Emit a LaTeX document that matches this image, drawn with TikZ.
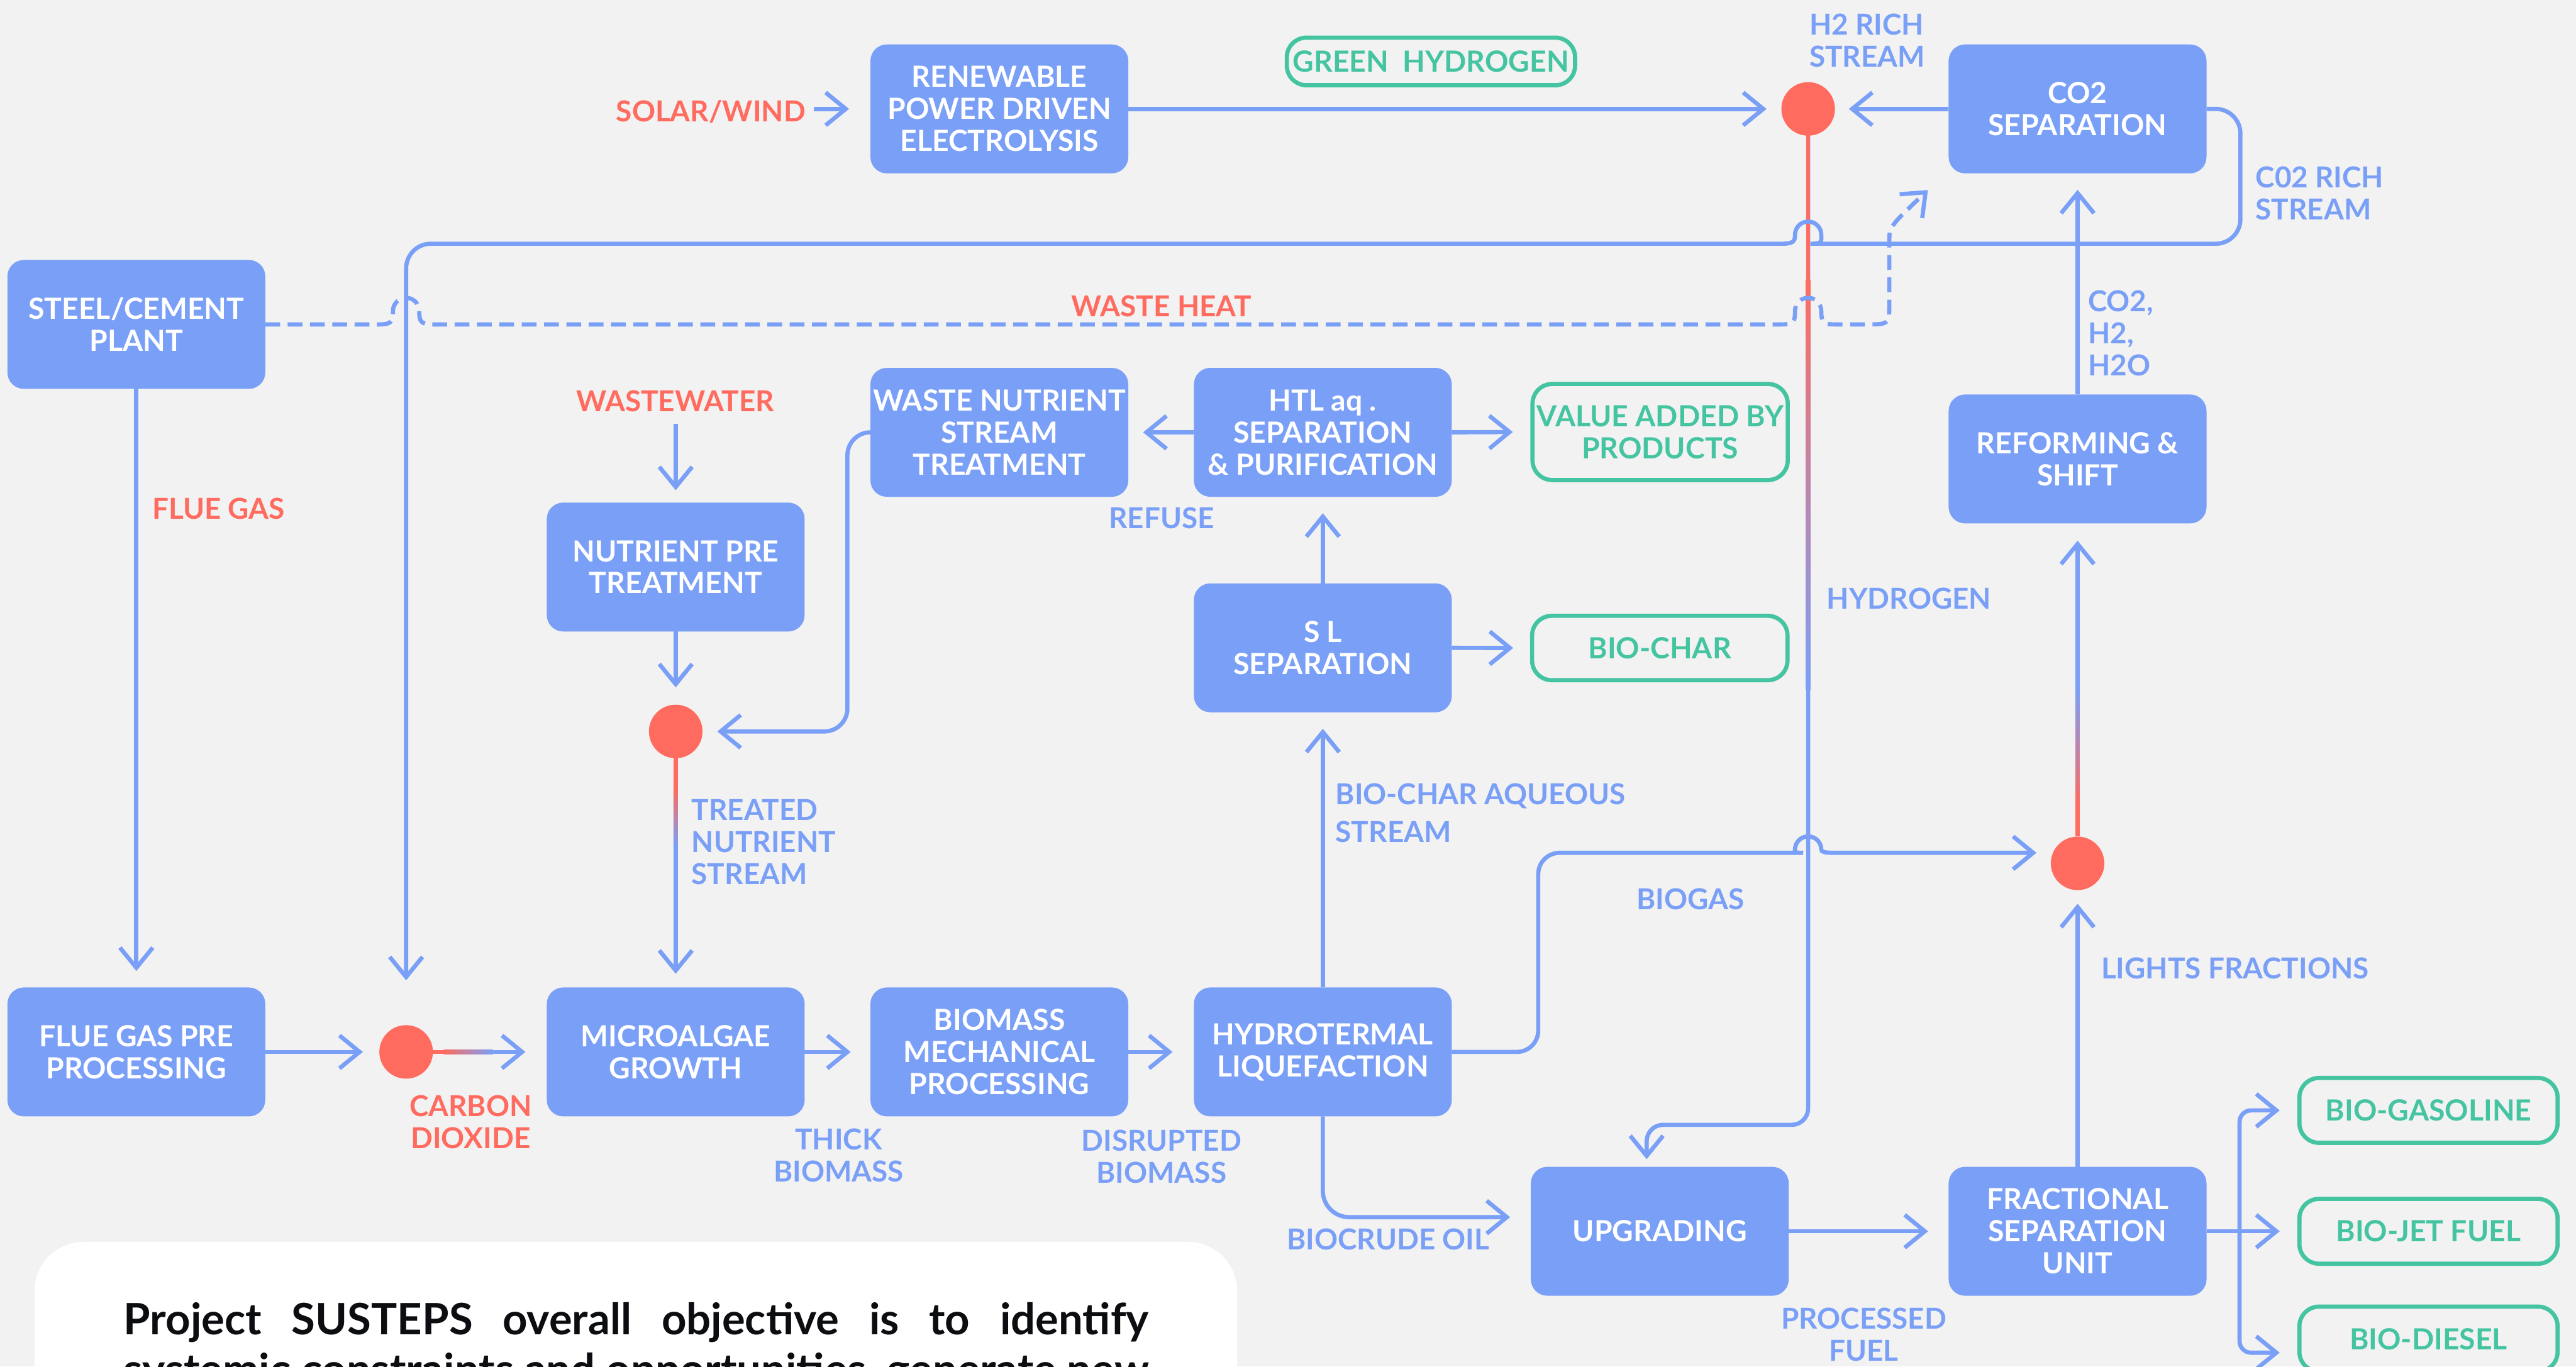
\documentclass[tikz,border=0pt]{standalone}
\usepackage{fontspec}
\usepackage{graphicx}
\setmainfont{Lato}
\usetikzlibrary{arrows.meta}
\definecolor{nblue}{HTML}{7A9FF7}
\definecolor{nred}{HTML}{FF6B5F}
\definecolor{ngreen}{HTML}{45C4A2}
\definecolor{bgc}{HTML}{F2F2F2}
\definecolor{ptext}{HTML}{0B0D10}
\newcommand\pnodefont{\fontsize{10.1}{11.1}\selectfont\bfseries}
\newcommand\plblfont{\fontsize{10.0}{11.1}\selectfont\bfseries}
\newcommand\paqfont{\fontsize{10.0}{13.1}\selectfont\bfseries}
\newcommand\pparafont{\fontsize{15}{15.5}\selectfont\bfseries}
\begin{document}
\begin{tikzpicture}[x=0.02cm,y=-0.02cm,
  proc/.style={rectangle,rounded corners=0.2cm,fill=nblue,text=white,minimum width=3.14cm,minimum height=1.57cm,inner sep=0pt,outer sep=0pt,align=center,font=\pnodefont},
  prod/.style={rectangle,rounded corners=0.24cm,draw=ngreen,line width=1.45pt,text=ngreen,minimum width=3.144cm,minimum height=0.79cm,inner sep=0pt,outer sep=0pt,align=center,font=\pnodefont},
  mix/.style={circle,fill=nred,minimum size=0.652cm,inner sep=0pt,outer sep=0pt},
  lbl/.style={text=nblue,font=\plblfont,inner sep=0pt,outer sep=0pt},
  rlbl/.style={text=nred,font=\plblfont,inner sep=0pt,outer sep=0pt},
  flow/.style={draw=nblue,line width=1.45pt},
  arr/.style={-{Straight Barb[length=0.245cm,width=0.4cm]}},
  heatline/.style={dash pattern=on 0.18cm off 0.092cm},
]
\fill[bgc] (0,0) rectangle (1568,832);
\useasboundingbox (0,0) rectangle (1568,832);
\clip (0,0) rectangle (1568,832);

% process nodes
\node[proc] (steel) at (83,197.5) {STEEL/CEMENT\\PLANT};
\node[proc] (renew) at (608.3,66.3) {RENEWABLE\\POWER DRIVEN\\ELECTROLYSIS};
\node[proc] (co2sep) at (1264.6,66.3) {CO2\\SEPARATION};
\node[proc] (wn) at (608.3,263.2) {WASTE NUTRIENT\\STREAM\\TREATMENT};
\node[proc] (htl) at (805.2,263.2) {HTL aq .\\SEPARATION\\\& PURIFICATION};
\node[proc] (ref) at (1264.6,279.4) {REFORMING \&\\SHIFT};
\node[proc] (npre) at (411.3,345.2) {NUTRIENT PRE\\TREATMENT};
\node[proc] (sl) at (805.2,394.4) {S L\\SEPARATION};
\node[proc] (fgp) at (83,640.4) {FLUE GAS PRE\\PROCESSING};
\node[proc] (micro) at (411.3,640.4) {MICROALGAE\\GROWTH};
\node[proc] (biom) at (608.3,640.4) {BIOMASS\\MECHANICAL\\PROCESSING};
\node[proc] (hydro) at (805.2,640.4) {HYDROTERMAL\\LIQUEFACTION};
\node[proc] (upg) at (1010.3,749.6) {UPGRADING};
\node[proc] (frac) at (1264.6,749.6) {FRACTIONAL\\SEPARATION\\UNIT};

% product nodes
\node[prod,minimum width=3.51cm,minimum height=0.58cm] (gh) at (871,37.4) {GREEN\ \ HYDROGEN};
\node[prod,minimum width=3.108cm,minimum height=1.17cm] (va) at (1010.5,263) {VALUE ADDED BY\\PRODUCTS};
\node[prod,minimum width=3.11cm,minimum height=0.784cm] (bc) at (1010.3,394.5) {BIO-CHAR};
\node[prod] (bgas) at (1478.2,676) {BIO-GASOLINE};
\node[prod] (bjet) at (1478.2,749.6) {BIO-JET FUEL};
\node[prod] (bdie) at (1478.2,815.2) {BIO-DIESEL};

% mixing points
\node[mix] (d1) at (1100.6,66.3) {};
\node[mix] (d2) at (411.3,445.3) {};
\node[mix] (d3) at (247.2,640.4) {};
\node[mix] (d4) at (1264.6,525.6) {};

% labels
\node[rlbl,anchor=base] (solar) at (432.7,74) {SOLAR/WIND};
\node[rlbl,anchor=base] (wheat) at (707,192.6) {WASTE HEAT};
\node[rlbl,anchor=base] (flue) at (133,316) {FLUE GAS};
\node[rlbl,anchor=base] (ww) at (411,250.7) {WASTEWATER};
\node[rlbl,anchor=north,align=center] (carb) at (286.5,667) {CARBON\\DIOXIDE};
\node[lbl,anchor=north west,align=left] (h2r) at (1101.4,8.3) {H2 RICH\\STREAM};
\node[lbl,anchor=north west,align=left] (co2r) at (1373,101.6) {C02 RICH\\STREAM};
\node[lbl,anchor=north west,align=left] (gasmix) at (1271,177) {CO2,\\H2,\\H2O};
\node[lbl,anchor=north west,align=left] (treat) at (421,486.6) {TREATED\\NUTRIENT\\STREAM};
\node[lbl,anchor=base] (refuse) at (707,321.6) {REFUSE};
\node[lbl,anchor=north west,align=left,font=\paqfont] (aq) at (813,477) {BIO-CHAR AQUEOUS\\STREAM};
\node[lbl,anchor=base] (biogas) at (1029,553.6) {BIOGAS};
\node[lbl,anchor=base west] (hyd) at (1112,370.6) {HYDROGEN};
\node[lbl,anchor=base west] (lights) at (1279,595.9) {LIGHTS FRACTIONS};
\node[lbl,anchor=base] (crude) at (845,761) {BIOCRUDE OIL};
\node[lbl,anchor=north,align=center] (procf) at (1134.5,796.4) {PROCESSED\\FUEL};
\node[lbl,anchor=north,align=center] (thick) at (510.5,687) {THICK\\BIOMASS};
\node[lbl,anchor=north,align=center] (disr) at (707,688) {DISRUPTED\\BIOMASS};

% free ends
\coordinate (h2end) at (1002.3,705.7);
\coordinate (crudeend) at (919.2,741);
\coordinate (gasend) at (1239.6,519.2);
\coordinate (heatend) at (1173.5,115.7);
\coordinate (br) at (1363.2,749.6);

% hydrogen line (under the jumps)
\draw[flow,arr,rounded corners=0.2cm] (d1.south) -- (1100.6,684.8) -- (1002.3,684.8) -- (h2end);
\fill[nred] (1099.32,82) rectangle (1101.88,170);
\shade[top color=nred,bottom color=nblue] (1099.32,170) rectangle (1101.88,420);

% simple connectors
\draw[flow,arr] ([xshift=0.1cm]solar.east |- renew.west) -- ([xshift=-0.26cm]renew.west);
\draw[flow,arr] (renew.east) -- ([xshift=-0.18cm]d1.west);
\draw[flow,arr] (co2sep.west) -- ([xshift=0.17cm]d1.east);
\draw[flow,arr] (steel.south) -- ([yshift=0.2cm]fgp.north);
\draw[flow,arr] (fgp.east) -- ([xshift=-0.2cm]d3.west);
\draw[flow,arr] (d3.east) -- ([xshift=-0.26cm]micro.west);
\draw[flow,arr] ([yshift=-0.14cm]npre.north |- ww.south) -- ([yshift=0.15cm]npre.north);
\draw[flow,arr] (npre.south) -- ([yshift=0.21cm]d2.north);
\draw[flow,arr] (d2.south) -- ([yshift=0.166cm]micro.north);
\draw[flow,arr,rounded corners=0.28cm] (wn.west) -- (515.8,263.2) -- (515.8,445.3) -- ([xshift=0.18cm]d2.east);
\draw[flow,arr] (micro.east) -- ([xshift=-0.24cm]biom.west);
\draw[flow,arr] (biom.east) -- ([xshift=-0.26cm]hydro.west);
\draw[flow,arr] (hydro.north) -- ([yshift=-0.2cm]sl.south);
\draw[flow,arr] (sl.north) -- ([yshift=-0.2cm]htl.south);
\draw[flow,arr] (sl.east) -- ([xshift=-0.23cm]bc.west);
\draw[flow,arr] (htl.west) -- ([xshift=0.18cm]wn.east);
\draw[flow,arr] (htl.east) -- ([xshift=-0.24cm]va.west);
\draw[flow,arr,rounded corners=0.32cm] (hydro.south) -- (805.2,741) -- (crudeend);
\draw[flow,arr] (upg.east) -- ([xshift=-0.25cm]frac.west);
\draw[flow,arr] (frac.north) -- ([yshift=-0.166cm]d4.south);
\draw[flow,arr] (d4.north) -- ([yshift=-0.21cm]ref.south);
\draw[flow,arr] (ref.north) -- ([yshift=-0.2cm]co2sep.south);
\draw[flow,arr] (frac.east) -- ([xshift=-0.24cm]bjet.west);
\draw[flow,arr,rounded corners=0.14cm] (br) -- (1363.2,676) -- ([xshift=-0.24cm]bgas.west);
\draw[flow,arr,rounded corners=0.14cm] (br) -- (1363.2,823.5) -- ([xshift=-0.24cm,yshift=-0.166cm]bdie.west);

% biogas line with jump
\draw[flow,arr] (hydro.east) [rounded corners=0.26cm] -- (936.3,640.4) -- (936.3,519.2) -- (1084.6,519.2) [sharp corners]
  .. controls (1091,519.2) and (1092.6,518.5) .. (1092.6,517.2)
  arc[start angle=180,end angle=360,radius=8]
  .. controls (1108.6,518.5) and (1110.2,519.2) .. (1116.6,519.2) -- (gasend);

% CO2 rich stream with jump
\draw[flow,arr] (co2sep.east) [rounded corners=0.3cm] -- (1363.7,66.3) -- (1363.7,148.4) -- (1117,148.4) [sharp corners]
  .. controls (1109.5,148.4) and (1108.6,147) .. (1108.6,142.9)
  arc[start angle=0,end angle=-180,radius=8]
  .. controls (1092.6,147) and (1091.7,148.4) .. (1084.2,148.4) [rounded corners=0.3cm] -- (247.2,148.4) -- ([yshift=0.546cm]d3.north);

% waste heat (dashed) with jumps
\draw[flow,heatline,arr] (steel.east) -- (231,197.5)
  .. controls (238.5,197.5) and (239.2,195.5) .. (239.2,189.3)
  arc[start angle=180,end angle=360,radius=8]
  .. controls (255.2,195.5) and (255.9,197.5) .. (263.4,197.5) -- (1084.6,197.5)
  .. controls (1092.1,197.5) and (1092.6,195.5) .. (1092.6,189.3)
  arc[start angle=180,end angle=360,radius=8]
  .. controls (1108.6,195.5) and (1109.3,197.5) .. (1116.6,197.5) -- (1136,197.5)
  .. controls (1150,197.5) .. (1150,184) -- (1150,147) .. controls (1150,138) .. (heatend);

% gradient overlays
\fill[nred] (409.98,461) rectangle (412.62,480);
\shade[top color=nred,bottom color=nblue] (409.98,480) rectangle (412.62,515);
\fill[nred] (263,639.12) rectangle (270,641.68);
\shade[left color=nred,right color=nblue] (270,639.12) rectangle (300,641.68);
\fill[nred] (1263.32,490) rectangle (1265.88,509);
\shade[top color=nblue,bottom color=nred] (1263.32,420) rectangle (1265.88,490);

% text panel
\fill[white,rounded corners=0.6cm] (21,756) rectangle (753,900);
\node[anchor=base west,inner sep=0pt,text=ptext,font=\pparafont] (p1) at (75,812.6) {\makebox[12.48cm][s]{Project SUSTEPS overall objective is to identify}};
\node[anchor=base west,inner sep=0pt,text=ptext,font=\pparafont] (p2) at (75,843) {\resizebox{12.48cm}{\height}{systemic constraints and opportunities, generate new}};
\end{tikzpicture}
\end{document}
